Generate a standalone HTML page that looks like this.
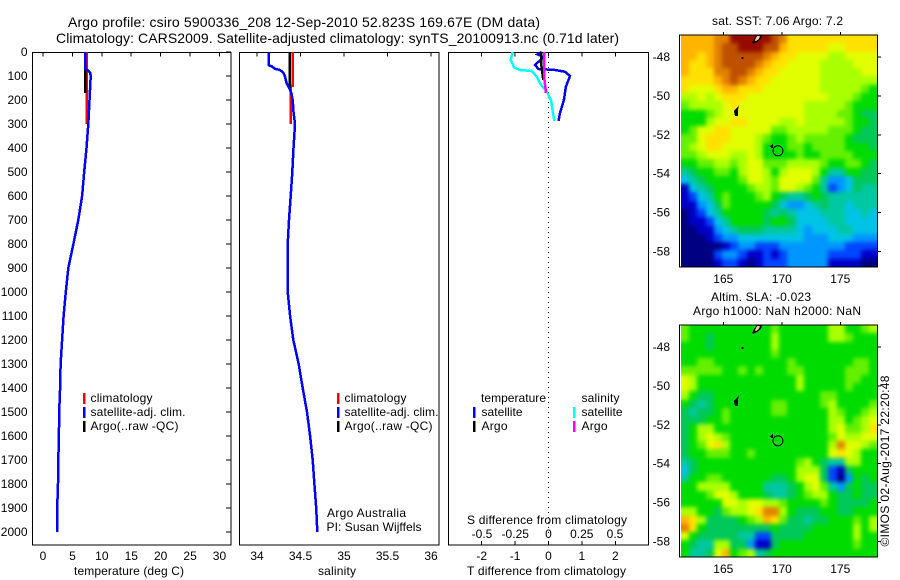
<!DOCTYPE html>
<html lang="en">
<head>
<meta charset="utf-8">
<title>Argo profile csiro 5900336_208</title>
<style>
  html, body { margin: 0; padding: 0; background: #fff; }
  svg { display: block; }
  text { font-family: "Liberation Sans", sans-serif; font-size: 12px; fill: #000; }
</style>
</head>
<body>
<svg id="chart" xmlns="http://www.w3.org/2000/svg" width="900" height="580" viewBox="0 0 900 580">
  <defs>
    <filter id="map-soften" filterUnits="userSpaceOnUse" x="640" y="0" width="260" height="580" color-interpolation-filters="sRGB">
      <feGaussianBlur stdDeviation="2"/>
    </filter>
    <clipPath id="sst-clip"><rect x="681" y="35" width="196.5" height="232"/></clipPath>
    <clipPath id="sla-clip"><rect x="681" y="325" width="196.5" height="232"/></clipPath>
  </defs>
  <rect x="0" y="0" width="900" height="580" fill="#fff"/>
  <text x="68" y="27" style="font-size:14px" textLength="472">Argo profile: csiro 5900336_208 12-Sep-2010 52.823S 169.67E (DM data)</text>
  <text x="56" y="43" style="font-size:14px" textLength="563">Climatology: CARS2009. Satellite-adjusted climatology: synTS_20100913.nc (0.71d later)</text>

  <g id="panels"></g>
  <g id="maps"></g>

  <text x="74" y="575" textLength="110">temperature (deg C)</text>
  <text x="318" y="575" textLength="38">salinity</text>
  <text x="467" y="575" textLength="159">T difference from climatology</text>
  <text x="467" y="524" textLength="160">S difference from climatology</text>

  <g>
    <rect x="83" y="393" width="2.5" height="11" fill="#ff0000"/>
    <text x="90.5" y="402" textLength="62">climatology</text>
    <rect x="83" y="407" width="2.5" height="11" fill="#0000ff"/>
    <text x="90.5" y="416" textLength="95">satellite-adj. clim.</text>
    <rect x="83" y="421" width="2.5" height="11" fill="#000"/>
    <text x="90.5" y="430" textLength="88">Argo(..raw -QC)</text>
  </g>
  <g>
    <rect x="337" y="393" width="2.5" height="11" fill="#ff0000"/>
    <text x="344.5" y="402" textLength="62">climatology</text>
    <rect x="337" y="407" width="2.5" height="11" fill="#0000ff"/>
    <text x="344.5" y="416" textLength="94">satellite-adj. clim.</text>
    <rect x="337" y="421" width="2.5" height="11" fill="#000"/>
    <text x="344.5" y="430" textLength="88">Argo(..raw -QC)</text>
  </g>
  <g>
    <text x="481" y="402" textLength="65">temperature</text>
    <rect x="473" y="407" width="2.5" height="11" fill="#0000ff"/>
    <text x="481.5" y="416" textLength="41">satellite</text>
    <rect x="473" y="421" width="2.5" height="11" fill="#000"/>
    <text x="481.5" y="430" textLength="26">Argo</text>
    <text x="581.5" y="402" textLength="38">salinity</text>
    <rect x="573" y="407" width="2.5" height="11" fill="#00ffff"/>
    <text x="581.5" y="416" textLength="41">satellite</text>
    <rect x="573" y="421" width="2.5" height="11" fill="#ff00ff"/>
    <text x="581.5" y="430" textLength="26">Argo</text>
  </g>

  <text x="327" y="517" textLength="79">Argo Australia</text>
  <text x="326.5" y="531" textLength="95">PI: Susan Wijffels</text>

  <text x="712" y="25" textLength="131">sat. SST: 7.06 Argo: 7.2</text>
  <text x="711" y="301" textLength="100">Altim. SLA: -0.023</text>
  <text x="693" y="315" textLength="168">Argo h1000: NaN h2000: NaN</text>
  <text transform="translate(889,546.5) rotate(-90)" textLength="171">©IMOS 02-Aug-2017 22:20:48</text>
</svg>

<script>
// ---------- profile data ----------
const tempSatDepths = [0, 70, 75, 85, 100, 200, 300, 400, 500, 600, 700, 800, 900, 1000, 1100, 1200, 1300, 1400, 1500, 1600, 1700, 1800, 1900, 2000];
const tempSatValues = [7.15, 7.15, 7.55, 8.0, 8.1, 7.9, 7.7, 7.4, 7.0, 6.65, 6.0, 5.17, 4.3, 3.87, 3.5, 3.24, 3.0, 2.9, 2.75, 2.7, 2.6, 2.55, 2.42, 2.4];
const tempClimDepths = [0, 300];
const tempClimValues = [7.4, 7.4];
const tempArgoDepths = [0, 170];
const tempArgoValues = [7.2, 7.2];

const salSatDepths = [0, 55, 60, 70, 75, 85, 100, 130, 150, 170, 200, 250, 300, 400, 500, 600, 700, 800, 900, 1000, 1100, 1200, 1300, 1400, 1500, 1600, 1700, 1800, 1900, 2000];
const salSatValues = [34.134, 34.134, 34.17, 34.207, 34.264, 34.30, 34.32, 34.34, 34.37, 34.394, 34.41, 34.42, 34.437, 34.42, 34.406, 34.387, 34.368, 34.353, 34.353, 34.353, 34.38, 34.417, 34.479, 34.525, 34.575, 34.61, 34.64, 34.66, 34.68, 34.693];
const salClimDepths = [0, 140, 140, 300];
const salClimValues = [34.41, 34.41, 34.39, 34.39];
const salArgoDepths = [0, 150];
const salArgoValues = [34.375, 34.375];

const diffTSatDepths = [0, 10, 20, 30, 54, 71, 75, 82, 100, 144, 200, 256, 288];
const diffTSatValues = [-0.2, -0.33, -0.16, -0.22, -0.40, -0.30, 0.195, 0.49, 0.644, 0.52, 0.46, 0.34, 0.30];
const diffSSatDepths = [0, 33, 64, 75, 79, 103, 131, 165, 200, 262, 288];
const diffSSatValues = [-0.27, -0.284, -0.259, -0.214, -0.126, -0.089, -0.064, -0.014, 0.019, 0.036, 0.044];
const diffTArgoDepths = [0, 50, 117];
const diffTArgoValues = [-0.225, -0.22, -0.155];
const diffSArgoDepths = [0, 100, 170];
const diffSArgoValues = [-0.034, -0.034, -0.019];

// ---------- tick labels ----------
const depthTicks = [0, 100, 200, 300, 400, 500, 600, 700, 800, 900, 1000, 1100, 1200, 1300, 1400, 1500, 1600, 1700, 1800, 1900, 2000];
const tempTicks = [0, 5, 10, 15, 20, 25, 30];
const salTicks = [34, 34.5, 35, 35.5, 36];
const diffTTicks = [-2, -1, 0, 1, 2];
const diffSTicks = [-0.5, -0.25, 0, 0.25, 0.5];
const mapLonTicks = [165, 170, 175];
const mapLatTicks = [-48, -50, -52, -54, -56, -58];

// ---------- map data (colour level 0-15, north to south) ----------
const sstLevels = [
[12,12,12,12,13,13,15,15,15,15,15,14,13,11,11,11,11,11,11,11,11,11,11,11],
[12,12,12,12,13,14,14,15,15,15,14,14,12,11,11,11,11,11,10,10,11,11,11,11],
[12,12,11,12,13,14,14,14,14,14,13,12,11,11,10,10,10,10,9,9,10,10,10,10],
[12,11,11,12,13,14,14,14,14,13,12,11,11,10,10,10,10,9,9,9,9,10,10,10],
[12,11,11,11,13,13,14,14,13,12,11,11,10,10,10,10,10,9,9,9,9,9,10,10],
[11,11,11,11,12,13,14,13,12,11,11,10,10,10,10,10,10,9,9,9,9,9,9,9],
[11,10,10,10,11,12,12,11,11,11,10,10,10,10,10,10,10,9,9,9,9,9,8,7],
[9,9,10,9,10,11,11,11,10,10,10,10,10,10,10,10,10,10,9,9,9,8,7,7],
[8,9,9,9,9,10,11,10,10,10,10,10,10,10,10,9,9,9,9,9,8,7,7,7],
[7,7,7,8,9,10,10,10,10,10,10,10,10,10,10,9,9,9,9,8,8,7,6,6],
[7,7,7,9,10,10,11,11,10,10,10,10,9,9,10,9,9,9,9,9,8,7,7,6],
[7,8,10,10,11,11,10,10,10,10,10,8,8,9,9,9,9,9,8,8,8,7,6,6],
[8,8,10,11,11,11,10,10,10,9,8,7,7,8,9,8,8,8,8,8,7,6,6,6],
[8,9,10,11,11,10,10,10,10,9,7,7,7,8,8,7,8,8,8,8,7,7,7,6],
[8,8,9,10,10,10,9,9,10,9,7,7,7,7,8,7,7,8,8,8,8,7,7,7],
[7,7,8,8,9,9,8,9,10,10,8,8,8,9,9,9,9,8,7,7,8,8,7,6],
[5,6,7,7,8,8,7,9,10,10,9,7,9,10,10,10,9,7,5,5,7,7,6,6],
[4,5,6,7,7,7,7,8,10,10,9,8,10,10,10,10,8,5,3,3,4,6,6,6],
[1,4,5,6,7,7,7,7,8,9,9,8,10,10,9,8,7,5,2,3,4,6,5,5],
[1,2,4,5,7,8,7,7,7,8,9,7,6,5,5,6,7,6,5,5,5,5,5,5],
[1,1,3,4,6,8,7,7,7,7,7,6,4,3,3,4,5,6,5,5,4,5,5,5],
[0,1,2,4,5,7,7,7,7,7,6,5,6,5,4,4,4,5,5,5,4,4,5,4],
[0,1,1,2,4,5,7,7,7,7,6,7,7,6,4,4,4,4,5,5,4,4,4,4],
[0,0,1,1,3,4,5,6,6,6,5,5,5,5,4,3,4,4,4,5,5,4,4,4],
[0,0,0,1,2,3,3,4,4,4,4,4,4,4,4,3,3,3,4,4,4,3,3,3],
[0,0,0,0,0,1,2,3,3,2,2,2,3,3,3,3,3,3,3,3,2,2,2,2],
[0,0,0,0,2,3,3,2,1,1,2,1,2,3,3,3,3,3,2,2,2,2,1,1],
[0,0,0,0,1,2,2,1,0,1,2,2,2,3,3,3,3,3,1,1,1,1,0,0]
];
const slaLevels = [
[8,7,7,7,7,7,7,7,7,7,7,8,7,7,7,7,7,7,9,9,7,7,8,9],
[8,7,7,6,7,7,7,7,7,7,7,9,7,7,7,7,7,7,9,9,8,7,7,7],
[7,7,7,6,7,7,7,7,7,7,7,9,7,7,7,7,7,7,7,7,7,7,7,7],
[7,7,7,7,7,7,7,7,7,7,7,8,7,7,7,7,7,7,7,7,7,7,7,7],
[7,7,8,8,7,7,7,7,7,7,7,7,7,8,7,7,7,7,7,7,7,8,8,7],
[8,8,8,8,8,7,7,8,7,8,7,7,7,8,8,7,7,7,7,7,8,8,8,7],
[10,9,7,7,7,7,7,7,7,7,7,7,7,7,9,7,7,7,7,7,8,8,7,7],
[10,9,7,7,7,7,7,7,7,7,7,7,7,7,9,7,7,7,7,7,8,7,7,7],
[9,7,6,6,7,7,7,7,7,7,7,7,7,7,7,7,7,8,8,7,7,7,7,7],
[7,6,5,6,7,7,7,7,7,7,7,8,8,7,7,7,7,8,9,7,7,7,7,8],
[6,5,6,6,7,8,7,7,7,7,7,8,8,7,7,7,7,7,9,8,7,7,8,9],
[6,6,6,7,7,8,7,7,7,7,7,7,7,7,7,7,7,7,9,9,7,8,9,10],
[6,7,9,9,7,7,7,7,7,7,7,7,7,7,7,7,7,7,9,10,8,8,9,11],
[6,7,9,10,9,8,7,7,7,7,7,7,7,7,7,7,7,7,8,10,9,9,10,10],
[6,7,8,10,11,9,7,7,7,7,7,7,7,7,7,7,7,7,9,13,10,10,9,8],
[6,7,7,8,8,8,7,7,8,7,7,7,7,7,7,7,7,7,10,11,10,9,7,7],
[5,6,7,7,7,7,7,7,7,7,7,7,7,7,8,9,7,6,5,5,9,9,7,7],
[4,6,7,7,7,7,7,7,7,7,7,7,7,7,9,9,9,6,2,1,6,7,7,7],
[5,7,7,8,8,7,7,7,7,7,7,6,6,7,9,10,10,6,2,0,3,7,6,7],
[7,7,9,9,9,9,7,7,7,7,5,5,5,6,7,9,10,8,5,3,6,7,6,6],
[7,7,7,8,10,10,9,7,7,7,6,5,5,6,7,8,9,9,7,6,6,7,6,6],
[7,7,7,7,7,10,10,9,10,10,9,9,8,7,7,7,7,8,7,6,6,6,6,7],
[9,9,7,7,6,8,9,9,10,11,13,13,9,7,6,6,6,7,7,6,6,7,7,7],
[12,11,9,6,6,6,6,7,8,9,12,11,8,6,6,5,6,6,7,7,7,8,7,9],
[13,11,7,6,6,6,6,6,6,6,6,7,6,6,6,6,7,7,7,7,7,9,7,9],
[10,7,6,6,6,6,6,5,5,2,2,6,6,6,6,7,7,7,7,7,7,9,7,7],
[7,6,5,5,9,9,6,6,3,1,1,6,7,7,7,7,7,7,7,7,7,8,7,7],
[7,5,5,6,10,12,7,8,9,5,6,7,7,7,7,7,7,7,7,7,7,7,7,7]
];
const levelColors = ['#000082','#0000c8','#0046ff','#0096ff','#00c3e6','#00c8a0','#00c85a','#00dc00','#64f000','#aaff00','#e1ff00','#ffe100','#ffb400','#e18200','#be5000','#960a00'];

const argoLon = 169.67;
const argoLat = -52.823;
const island1Lons = [167.45, 167.62, 167.88, 168.31, 168.22, 167.88, 167.54];
const island1Lats = [-47.28, -47.07, -46.87, -46.87, -47.07, -47.23, -47.33];
const island1CoreLons = [167.7, 167.88, 168.14, 168.05, 167.79];
const island1CoreLats = [-47.13, -46.92, -46.92, -47.07, -47.18];
const island2Lons = [166.34, 166.26, 166.26, 166.0, 165.91, 166.17];
const island2Lats = [-50.47, -50.72, -51.03, -51.03, -50.77, -50.62];
const island3Lons = [166.55, 166.72, 166.72, 166.55];
const island3Lats = [-48.0, -48.0, -48.1, -48.1];
const island4Lons = [169.0, 169.25, 169.25, 169.1];
const island4Lats = [-52.58, -52.47, -52.68, -52.68];

// ---------- axis functions ----------
const NS = 'http://www.w3.org/2000/svg';
const yDepth = d => 52 + d * 0.24;
const xTemp = t => 43 + t * 5.883;
const xSal = s => 257 + (s - 34) * 87;
const xDiffT = t => 548.5 + t * 33.4;
const xDiffS = s => 548.5 + s * 133;
const xLon = lon => 723.3 + (lon - 165) * 11.7;
const yLat = (lat, top) => top + 22 + (-48 - lat) * 19.45;

function make(tag, parent, props, text) {
  const e = document.createElementNS(NS, tag);
  for (const k in props) e.setAttribute(k, props[k]);
  if (text !== undefined) e.textContent = text;
  parent.appendChild(e);
  return e;
}

const panels = document.getElementById('panels');
const maps = document.getElementById('maps');

function drawFrame(parent, x, y, w, h, name) {
  const f = make('rect', parent, { x: x, y: y, width: w, height: h, fill: 'none', stroke: '#000', 'stroke-width': 1, 'shape-rendering': 'crispEdges' });
  
  
}

function drawTick(parent, x1, y1, x2, y2, name) {
  const t = make('line', parent, { x1: x1, y1: y1, x2: x2, y2: y2, stroke: '#000', 'stroke-width': 1, 'shape-rendering': 'crispEdges' });
  
  
}

function drawLabel(parent, x, y, anchor, str, name) {
  const t = make('text', parent, { x: x, y: y, 'text-anchor': anchor }, str);
  
  
}

function drawProfile(parent, xs, depths, values, color, name) {
  const pts = depths.map((d, i) => xs(values[i]).toFixed(1) + ',' + yDepth(d).toFixed(1)).join(' ');
  const p = make('polyline', parent, { points: pts, fill: 'none', stroke: color, 'stroke-width': 2.5, 'stroke-linejoin': 'miter', 'shape-rendering': 'crispEdges' });
  
  
}

// ---------- profile panels ----------
const TOP = 52.5, H = 492.5;
drawFrame(panels, 32.5, TOP, 198.5, H, 'temperature-plot-frame');
drawFrame(panels, 239.5, TOP, 199.5, H, 'salinity-plot-frame');
drawFrame(panels, 448.5, TOP, 200, H, 'difference-plot-frame');

depthTicks.forEach(d => {
  drawLabel(panels, 27.5, yDepth(d) + 4, 'end', String(d), 'depth-tick-label');
  drawTick(panels, 226, yDepth(d), 231, yDepth(d), 'depth-tick');
});
tempTicks.forEach(v => {
  drawLabel(panels, xTemp(v), 560, 'middle', String(v), 'temperature-tick-label');
  drawTick(panels, xTemp(v), TOP, xTemp(v), TOP + 4, 'temperature-tick');
});
salTicks.forEach(v => {
  drawLabel(panels, xSal(v), 560, 'middle', String(v), 'salinity-tick-label');
  drawTick(panels, xSal(v), TOP, xSal(v), TOP + 4, 'salinity-tick');
});
diffTTicks.forEach(v => {
  drawLabel(panels, xDiffT(v), 560, 'middle', String(v), 't-difference-tick-label');
  drawTick(panels, xDiffT(v), TOP, xDiffT(v), TOP + 4, 't-difference-top-tick');
  drawTick(panels, xDiffT(v), 541, xDiffT(v), 545, 't-difference-bottom-tick');
});
diffSTicks.forEach(v => {
  drawLabel(panels, xDiffS(v), 538, 'middle', String(v), 's-difference-tick-label');
});

const zeroLine = make('line', panels, { x1: 548.5, y1: 52, x2: 548.5, y2: 545, stroke: '#000', 'stroke-width': 1, 'stroke-dasharray': '1 4', 'shape-rendering': 'crispEdges' });



drawProfile(panels, xTemp, tempClimDepths, tempClimValues, '#ff0000', 'temperature-climatology-line');
drawProfile(panels, xTemp, tempArgoDepths, tempArgoValues, '#000000', 'temperature-argo-line');
drawProfile(panels, xTemp, tempSatDepths, tempSatValues, '#0000ff', 'temperature-satellite-line');

drawProfile(panels, xSal, salClimDepths, salClimValues, '#ff0000', 'salinity-climatology-line');
drawProfile(panels, xSal, salArgoDepths, salArgoValues, '#000000', 'salinity-argo-line');
drawProfile(panels, xSal, salSatDepths, salSatValues, '#0000ff', 'salinity-satellite-line');

drawProfile(panels, xDiffT, diffTSatDepths, diffTSatValues, '#0000ff', 't-difference-satellite-line');
drawProfile(panels, xDiffT, diffTArgoDepths, diffTArgoValues, '#000000', 't-difference-argo-line');
drawProfile(panels, xDiffS, diffSSatDepths, diffSSatValues, '#00ffff', 's-difference-satellite-line');
drawProfile(panels, xDiffS, diffSArgoDepths, diffSArgoValues, '#ff00ff', 's-difference-argo-line');

// ---------- maps ----------
function drawIsland(parent, lons, lats, top, color, name) {
  const pts = lons.map((lon, i) => xLon(lon).toFixed(1) + ',' + yLat(lats[i], top).toFixed(1)).join(' ');
  const p = make('polygon', parent, { points: pts, fill: color, 'shape-rendering': 'crispEdges' });
  
  
}

function drawMap(levels, top, prefix) {
  const left = 681, right = 877.5, height = 232, bleed = 12;
  const group = make('g', maps, {});
  
  
  const clipper = make('g', group, { 'clip-path': 'url(#' + prefix + '-clip)' });
  
  
  const image = make('g', clipper, { filter: 'url(#map-soften)' });
  
  
  const rows = levels.length, cols = levels[0].length;
  const cw = (right - left) / cols, ch = height / rows;
  levels.forEach((row, r) => {
    row.forEach((lv, c) => {
      // outermost cells bleed past the clip so the softening does not fade at the edges
      const x0 = Math.round(left + c * cw) - (c === 0 ? bleed : 0);
      const x1 = Math.round(left + (c + 1) * cw) + (c === cols - 1 ? bleed : 0);
      const y0 = Math.round(top + r * ch) - (r === 0 ? bleed : 0);
      const y1 = Math.round(top + (r + 1) * ch) + (r === rows - 1 ? bleed : 0);
      const cell = make('rect', image, { x: x0, y: y0, width: x1 - x0, height: y1 - y0, fill: levelColors[lv], 'shape-rendering': 'crispEdges' });
      
      
    });
  });
  drawIsland(clipper, island1Lons, island1Lats, top, '#000', 'island-north');
  drawIsland(clipper, island1CoreLons, island1CoreLats, top, '#ffc896', 'island-north-land');
  drawIsland(clipper, island2Lons, island2Lats, top, '#000', 'island-auckland');
  drawIsland(clipper, island3Lons, island3Lats, top, '#000', 'island-small');
  drawIsland(clipper, island4Lons, island4Lats, top, '#000', 'island-campbell');
  const ring = make('circle', group, { cx: xLon(argoLon), cy: yLat(argoLat, top), r: 5, fill: 'none', stroke: '#000', 'stroke-width': 1 });
  
  

  drawFrame(group, 679.5, top, 198, height, prefix + '-map-frame');
  mapLonTicks.forEach(lon => {
    drawLabel(group, xLon(lon), top + 248, 'middle', String(lon), prefix + '-longitude-label');
    drawTick(group, xLon(lon), top - 3, xLon(lon), top, prefix + '-longitude-tick');
  });
  mapLatTicks.forEach(lat => {
    drawLabel(group, 670, yLat(lat, top) + 4, 'end', String(lat), prefix + '-latitude-label');
    drawTick(group, 878, yLat(lat, top), 881, yLat(lat, top), prefix + '-latitude-tick');
  });
}

drawMap(sstLevels, 35, 'sst');
drawMap(slaLevels, 325, 'sla');
</script>
</body>
</html>
